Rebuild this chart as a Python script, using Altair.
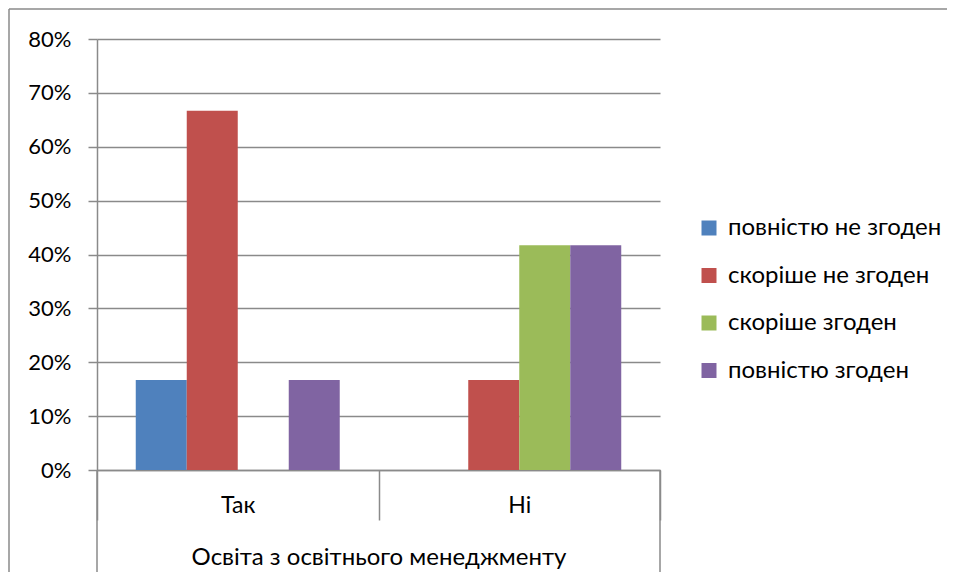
import altair as alt
import pandas as pd

categories = ["Так", "Ні"]
series = ["повністю не згоден", "скоріше не згоден", "скоріше згоден", "повністю згоден"]
values_tak = [0.167, 0.667, 0.0, 0.167]
values_ni = [0.0, 0.167, 0.417, 0.417]
colors = ["#4F81BD", "#C0504D", "#9BBB59", "#8064A2"]
y_ticks = [0.0, 0.1, 0.2, 0.3, 0.4, 0.5, 0.6, 0.7, 0.8]
x_title = "Освіта з освітнього менеджменту"

rows = []
for cat, vals in zip(categories, [values_tak, values_ni]):
    for s, v in zip(series, vals):
        rows.append({"cat": cat, "series": s, "value": v})
df = pd.DataFrame(rows)

W, H = 563, 431
FONT = "Lato"
GRAY = "#8a8a8a"

bars = alt.Chart(df).mark_bar().encode(
    x=alt.X(
        "cat:N",
        sort=categories,
        scale=alt.Scale(paddingInner=0, paddingOuter=0),
        axis=alt.Axis(
            title=x_title,
            labelAngle=0,
            tickBand="extent",
            ticks=True,
            tickSize=50,
            tickColor=GRAY,
            tickWidth=1.5,
            domainColor=GRAY,
            domainWidth=1.5,
            labelPadding=-8,
            labelBaseline="alphabetic",
            labelFont=FONT,
            labelFontSize=23,
            labelColor="black",
            titleY=94,
            titleBaseline="alphabetic",
            titleFont=FONT,
            titleFontSize=24,
            titleFontWeight="normal",
            titleColor="black",
        ),
    ),
    xOffset=alt.XOffset(
        "series:N", sort=series, scale=alt.Scale(domain=series, paddingInner=0, paddingOuter=0.76)
    ),
    y=alt.Y(
        "value:Q",
        scale=alt.Scale(domain=[0, 0.8], nice=False),
        axis=alt.Axis(
            title=None,
            format=".0%",
            values=y_ticks,
            tickSize=9,
            tickColor=GRAY,
            tickWidth=1.5,
            domainColor=GRAY,
            domainWidth=1.5,
            grid=True,
            gridColor=GRAY,
            gridWidth=1.5,
            labelPadding=17,
            labelFont=FONT,
            labelFontSize=22,
            labelColor="black",
        ),
    ),
    color=alt.Color(
        "series:N",
        sort=series,
        scale=alt.Scale(domain=series, range=colors),
        legend=alt.Legend(
            title=None,
            orient="none",
            legendX=600,
            legendY=177,
            direction="vertical",
            symbolType="square",
            symbolSize=225,
            symbolStrokeWidth=0,
            labelFont=FONT,
            labelFontSize=24,
            labelColor="black",
            labelOffset=7,
            labelLimit=400,
            rowPadding=23.5,
            padding=0,
        ),
    ),
)

frame_src = alt.Chart(pd.DataFrame({"k": [0]})).mark_rule(color=GRAY, strokeWidth=1.5)
top_line = frame_src.encode(x=alt.value(-88), x2=alt.value(900), y=alt.value(-30))
left_line = frame_src.encode(x=alt.value(-88), y=alt.value(-30), y2=alt.value(560))
div_l = frame_src.encode(x=alt.value(0), y=alt.value(H), y2=alt.value(560))
div_r = frame_src.encode(x=alt.value(W), y=alt.value(H), y2=alt.value(560))

chart = (
    alt.layer(bars, top_line, left_line, div_l, div_r)
    .properties(
        width=W,
        height=H,
        autosize="none",
        padding={"left": 89, "top": 31, "right": 287, "bottom": 102},
    )
    .configure_view(stroke=None)
)

chart.save("out.html", embed_options={"renderer": "svg", "actions": False})
